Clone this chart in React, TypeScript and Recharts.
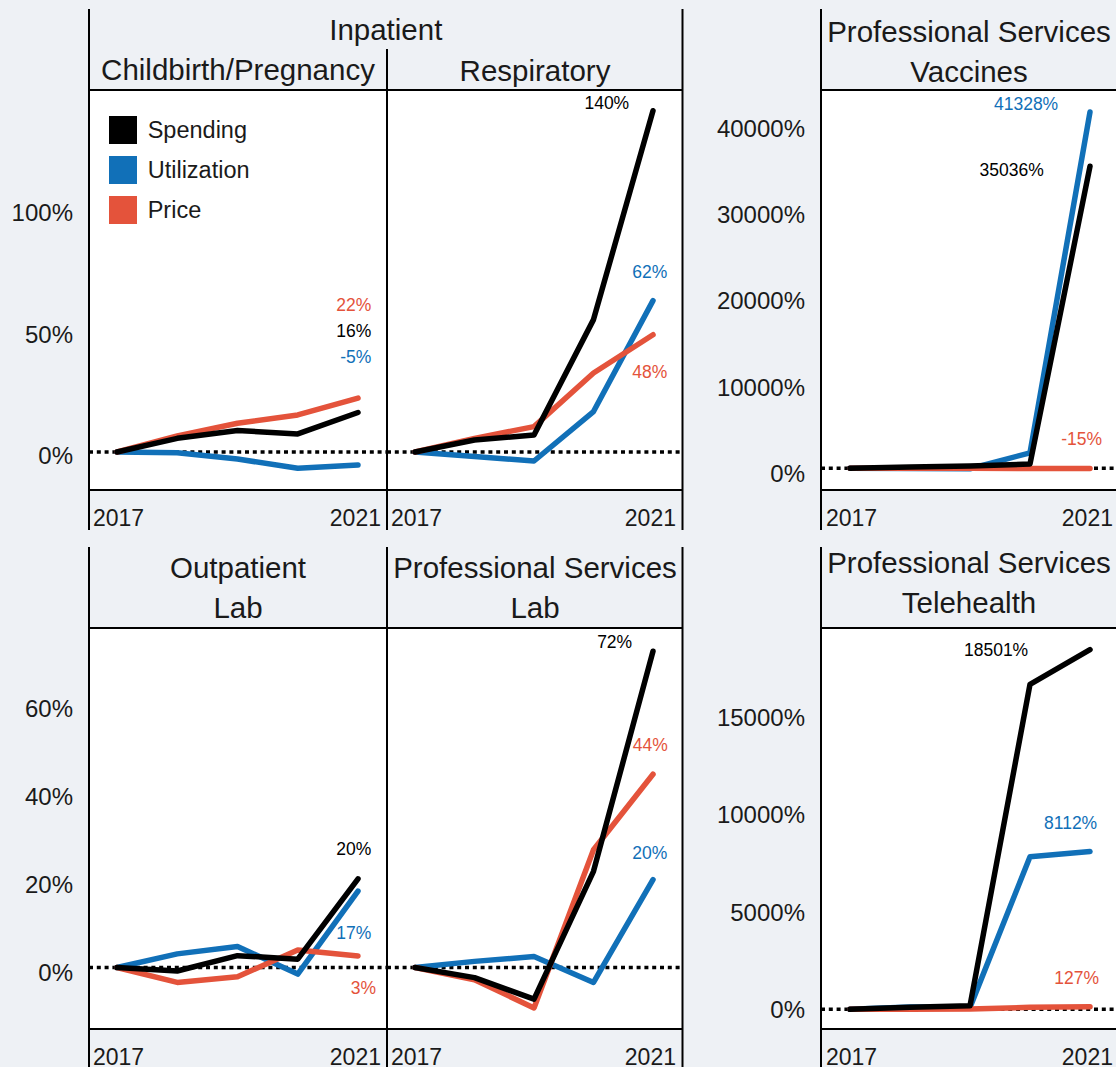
import React from 'react';
import { LineChart, Line, XAxis, YAxis, ReferenceLine, ReferenceDot, Legend } from 'recharts';

const FONT = '"Liberation Sans", Arial, Helvetica, sans-serif';
const BG = '#eef1f5';
const INK = '#1a1a1a';
const BLACK = '#000000';
const BLUE = '#1170b8';
const RED = '#e4533b';

// ---------- data ----------
const years = [2017, 2018, 2019, 2020, 2021];
const xTickYears = [2017, 2021];

const seriesKeys = ['spending', 'utilization', 'price'];
const seriesNames = ['Spending', 'Utilization', 'Price'];
const seriesColors = [BLACK, BLUE, RED];

// Inpatient – Childbirth/Pregnancy (% change vs 2017)
const childbirthSpending = [0, 5.6, 8.8, 7.4, 16.2];
const childbirthUtilization = [0, -0.3, -2.9, -6.7, -5.3];
const childbirthPrice = [0, 6.6, 11.8, 15.2, 22.1];

// Inpatient – Respiratory
const respiratorySpending = [0, 4.9, 7.0, 54.3, 140.0];
const respiratoryUtilization = [0, -1.9, -3.7, 16.6, 62.1];
const respiratoryPrice = [0, 5.6, 10.4, 32.4, 48.1];

// Professional Services – Vaccines
const vaccinesSpending = [0, 150, 270, 500, 35036];
const vaccinesUtilization = [0, -30, -50, 1800, 41328];
const vaccinesPrice = [0, -3, -8, -12, -15];

// Outpatient – Lab
const outpatientLabSpending = [0, -0.8, 2.7, 1.9, 20.2];
const outpatientLabUtilization = [0, 3.1, 4.8, -1.5, 17.4];
const outpatientLabPrice = [0, -3.4, -2.1, 4.0, 2.6];

// Professional Services – Lab
const profLabSpending = [0, -2.3, -7.2, 21.9, 72.0];
const profLabUtilization = [0, 1.4, 2.5, -3.4, 20.0];
const profLabPrice = [0, -2.8, -9.2, 26.8, 44.0];

// Professional Services – Telehealth
const telehealthSpending = [0, 100, 185, 16718, 18501];
const telehealthUtilization = [0, 120, 100, 7850, 8112];
const telehealthPrice = [0, 5, 15, 100, 127];

// y-axis tick values
const inpatientTicks = [0, 50, 100];
const vaccinesTicks = [0, 10000, 20000, 30000, 40000];
const labTicks = [0, 20, 40, 60];
const telehealthTicks = [0, 5000, 10000, 15000];

// end-of-series value labels (text, series, anchor in data units)
const childbirthLabels = [
  { series: 'price', text: '22%', year: 2021.22, value: 60.5 },
  { series: 'spending', text: '16%', year: 2021.22, value: 49.6 },
  { series: 'utilization', text: '-5%', year: 2021.22, value: 39.0 },
];
const respiratoryLabels = [
  { series: 'spending', text: '140%', year: 2020.6, value: 143.1 },
  { series: 'utilization', text: '62%', year: 2021.24, value: 74.0 },
  { series: 'price', text: '48%', year: 2021.24, value: 33.0 },
];
const vaccinesLabels = [
  { series: 'utilization', text: '41328%', year: 2020.47, value: 42285 },
  { series: 'spending', text: '35036%', year: 2020.23, value: 34606 },
  { series: 'price', text: '-15%', year: 2021.2, value: 3422 },
];
const outpatientLabLabels = [
  { series: 'spending', text: '20%', year: 2021.22, value: 27.0 },
  { series: 'utilization', text: '17%', year: 2021.22, value: 7.8 },
  { series: 'price', text: '3%', year: 2021.3, value: -4.7 },
];
const profLabLabels = [
  { series: 'spending', text: '72%', year: 2020.65, value: 74.1 },
  { series: 'price', text: '44%', year: 2021.25, value: 50.7 },
  { series: 'utilization', text: '20%', year: 2021.24, value: 26.0 },
];
const telehealthLabels = [
  { series: 'spending', text: '18501%', year: 2019.97, value: 18457 },
  { series: 'utilization', text: '8112%', year: 2021.12, value: 9568 },
  { series: 'price', text: '127%', year: 2021.15, value: 1636 },
];

// ---------- layout ----------
const X_AXIS_H = 42;

const panels = [
  { id: 'childbirth', left: 89, top: 90, width: 298, height: 400, padL: 28, padR: 29, yw: 89, tickDy: 4,
    domain: [-15.6, 148.5], ticks: inpatientTicks, legend: true,
    spending: childbirthSpending, utilization: childbirthUtilization, price: childbirthPrice, labels: childbirthLabels },
  { id: 'respiratory', left: 387, top: 90, width: 296, height: 400, padL: 28, padR: 30, yw: 0, tickDy: 4,
    domain: [-15.6, 148.5], ticks: inpatientTicks, legend: false,
    spending: respiratorySpending, utilization: respiratoryUtilization, price: respiratoryPrice, labels: respiratoryLabels },
  { id: 'vaccines', left: 821, top: 90, width: 297, height: 400, padL: 29, padR: 28, yw: 135, tickDy: 5,
    domain: [-2517, 43886], ticks: vaccinesTicks, legend: false,
    spending: vaccinesSpending, utilization: vaccinesUtilization, price: vaccinesPrice, labels: vaccinesLabels },
  { id: 'outlab', left: 89, top: 628, width: 298, height: 401, padL: 28, padR: 29, yw: 89, tickDy: 5,
    domain: [-14.0, 77.3], ticks: labTicks, legend: false,
    spending: outpatientLabSpending, utilization: outpatientLabUtilization, price: outpatientLabPrice, labels: outpatientLabLabels },
  { id: 'proflab', left: 387, top: 628, width: 296, height: 401, padL: 28, padR: 30, yw: 0, tickDy: 5,
    domain: [-14.0, 77.3], ticks: labTicks, legend: false,
    spending: profLabSpending, utilization: profLabUtilization, price: profLabPrice, labels: profLabLabels },
  { id: 'telehealth', left: 821, top: 628, width: 297, height: 401, padL: 29, padR: 28, yw: 135, tickDy: 0,
    domain: [-1013, 19614], ticks: telehealthTicks, legend: false,
    spending: telehealthSpending, utilization: telehealthUtilization, price: telehealthPrice, labels: telehealthLabels },
];

const strips = [
  { text: 'Inpatient', x: 385.8, y: 40 },
  { text: 'Childbirth/Pregnancy', x: 238, y: 80 },
  { text: 'Respiratory', x: 535, y: 80.5 },
  { text: 'Professional Services', x: 969, y: 41.7 },
  { text: 'Vaccines', x: 969, y: 81.7 },
  { text: 'Outpatient', x: 238, y: 577.7 },
  { text: 'Lab', x: 238, y: 618.3 },
  { text: 'Professional Services', x: 535, y: 577.7 },
  { text: 'Lab', x: 535, y: 618.3 },
  { text: 'Professional Services', x: 969, y: 573.3 },
  { text: 'Telehealth', x: 969, y: 612.7 },
];

const frameLines = [
  // top row
  [89, 9, 89, 530], [387, 49, 387, 530], [682.5, 9, 682.5, 530],
  [89, 90, 682.5, 90], [89, 490, 682.5, 490],
  [821, 9, 821, 530], [821, 90, 1116, 90], [821, 490, 1116, 490],
  // bottom row
  [89, 547, 89, 1067], [387, 547, 387, 1067], [682.5, 547, 682.5, 1067],
  [89, 628, 682.5, 628], [89, 1029, 682.5, 1029],
  [821, 547, 821, 1067], [821, 628, 1116, 628], [821, 1029, 1116, 1029],
];

const colorOf = (key: string) => seriesColors[seriesKeys.indexOf(key)];

const XTick = (props: any) => {
  const { x, y, payload } = props;
  const first = payload.value === xTickYears[0];
  return (
    <text x={first ? x - 24 : x + 23} y={y + 35.5} textAnchor={first ? 'start' : 'end'}
      fontSize={23} fill={INK} fontFamily={FONT}>{payload.value}</text>
  );
};

const makeYTick = (dy: number) => (props: any) => {
  const { x, y, payload } = props;
  return (
    <text x={x} y={y + dy} textAnchor="end" dominantBaseline="central"
      fontSize={24} fill={INK} fontFamily={FONT}>{`${payload.value}%`}</text>
  );
};

const LegendBox = () => (
  <div style={{ fontFamily: FONT }}>
    {seriesNames.map((name, i) => (
      <div key={name} style={{ display: 'flex', alignItems: 'center', height: 40 }}>
        <div style={{ width: 28, height: 28, background: seriesColors[i] }} />
        <span style={{ marginLeft: 10.7, fontSize: 23.5, color: INK, whiteSpace: 'nowrap' }}>{name}</span>
      </div>
    ))}
  </div>
);

function PanelChart({ p }: { p: any }) {
  const data = years.map((yr, i) => ({
    year: yr,
    spending: p.spending[i],
    utilization: p.utilization[i],
    price: p.price[i],
  }));
  const yw = p.yw;
  const drawOrder = ['utilization', 'price', 'spending'];
  return (
    <div style={{ position: 'absolute', left: p.left - yw, top: p.top }}>
      <LineChart width={p.width + yw} height={p.height + X_AXIS_H} data={data}
        margin={{ top: 0, right: 0, bottom: 0, left: 0 }}>
        <XAxis dataKey="year" type="number" domain={[years[0], years[years.length - 1]]}
          ticks={xTickYears} interval={0}
          padding={{ left: p.padL, right: p.padR }} axisLine={false} tickLine={false}
          tickSize={0} tickMargin={0} height={X_AXIS_H} tick={<XTick />} />
        <YAxis type="number" domain={p.domain} ticks={p.ticks} interval={0}
          hide={yw === 0} width={yw || 1} axisLine={false} tickLine={false} tickSize={0}
          tickMargin={16} tick={makeYTick(p.tickDy)} />
        <ReferenceLine y={0} stroke={BLACK} strokeWidth={3.5} strokeDasharray="4 3.8" />
        {drawOrder.map((key) => (
          <Line key={key} type="linear" dataKey={key} stroke={colorOf(key)} strokeWidth={5.5}
            dot={false} activeDot={false} isAnimationActive={false}
            strokeLinecap="round" strokeLinejoin="round" />
        ))}
        {p.labels.map((l: any) => (
          <ReferenceDot key={l.text + l.series} x={l.year} y={l.value} r={0} ifOverflow="visible"
            shape={(sp: any) => (
              <text x={sp.cx} y={sp.cy} textAnchor="end" dominantBaseline="central"
                fontSize={17.5} fill={colorOf(l.series)} fontFamily={FONT}>{l.text}</text>
            )} />
        ))}
        {p.legend && (
          <Legend layout="vertical" align="center" verticalAlign="middle"
            wrapperStyle={{ left: 109, top: 20, width: 'auto', height: 'auto' }}
            content={() => <LegendBox />} />
        )}
      </LineChart>
    </div>
  );
}

export default function App() {
  return (
    <div style={{ position: 'absolute', left: 0, top: 0, width: 1116, height: 1067, overflow: 'hidden',
      background: BG, fontFamily: FONT }}>
      {panels.map((p) => (
        <div key={'bg' + p.id} style={{ position: 'absolute', left: p.left, top: p.top,
          width: p.width, height: p.height, background: '#ffffff' }} />
      ))}
      {panels.map((p) => <PanelChart key={p.id} p={p} />)}
      <svg width={1116} height={1067} style={{ position: 'absolute', left: 0, top: 0, pointerEvents: 'none' }}>
        {frameLines.map((l, i) => (
          <line key={i} x1={l[0]} y1={l[1]} x2={l[2]} y2={l[3]} stroke={BLACK} strokeWidth={2} />
        ))}
        {strips.map((s, i) => (
          <text key={i} x={s.x} y={s.y} textAnchor="middle" fontSize={29.5} fill={INK} fontFamily={FONT}>{s.text}</text>
        ))}
      </svg>
    </div>
  );
}
